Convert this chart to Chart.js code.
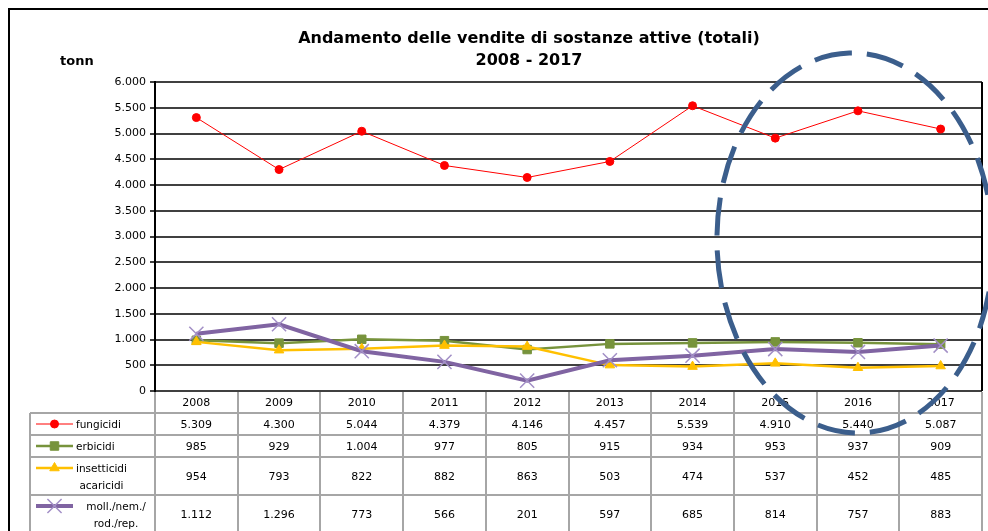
<!DOCTYPE html>
<html><head><meta charset="utf-8">
<script src="https://cdn.jsdelivr.net/npm/chart.js@4.4.1/dist/chart.umd.min.js"></script>
<style>html,body{margin:0;padding:0;background:#fff;}#wrap{width:988px;height:531px;position:relative;overflow:hidden;}</style>
</head><body><div id="wrap"><canvas id="c" width="988" height="531"></canvas></div>
<script>
// ---- data ----
const years = ['2008','2009','2010','2011','2012','2013','2014','2015','2016','2017'];
const fungicidi = [5309,4300,5044,4379,4146,4457,5539,4910,5440,5087];
const erbicidi = [985,929,1004,977,805,915,934,953,937,909];
const insetticidi = [954,793,822,882,863,503,474,537,452,485];
const molluschicidi = [1112,1296,773,566,201,597,685,814,757,883];
const seriesLabels = [['fungicidi'],['erbicidi'],['insetticidi','acaricidi'],['moll./nem./','rod./rep.']];
const yMin = 0, yMax = 6000, yStep = 500;
const titleLines = ['Andamento delle vendite di sostanze attive (totali)','2008 - 2017'];
const unitLabel = 'tonn';

// ---- styles ----
const styles = [
  {line:'#ff0000', lw:1, point:'circle', r:4, pFill:'#ff0000', pBorder:'#ff0000', pbw:1},
  {line:'#77933c', lw:2.5, point:'rect', r:6, pFill:'#77933c', pBorder:'#77933c', pbw:1},
  {line:'#ffc000', lw:2.5, point:'triangle', r:5.5, pFill:'#ffc000', pBorder:'#ffc000', pbw:1},
  {line:'#8064a2', lw:4, point:'crossRot', r:10, pFill:'#a28fc6', pBorder:'#a28fc6', pbw:1.5}
];
const seriesData = [fungicidi, erbicidi, insetticidi, molluschicidi];
const FONT = '"DejaVu Sans", Verdana, sans-serif';

function fmt(v){ return String(Math.round(v)).replace(/\B(?=(\d{3})+(?!\d))/g,'.'); }

function drawMarker(ctx, s, x, y){
  ctx.save();
  ctx.fillStyle = s.pFill; ctx.strokeStyle = s.pBorder; ctx.lineWidth = s.pbw;
  ctx.beginPath();
  if (s.point==='circle'){ ctx.arc(x,y,s.r,0,Math.PI*2); ctx.fill(); ctx.stroke(); }
  else if (s.point==='rect'){ const h=s.r*Math.SQRT1_2; ctx.rect(x-h,y-h,2*h,2*h); ctx.fill(); ctx.stroke(); }
  else if (s.point==='triangle'){
    const r=s.r;
    ctx.moveTo(x, y-r); ctx.lineTo(x+r*Math.sin(2*Math.PI/3), y-r*Math.cos(2*Math.PI/3));
    ctx.lineTo(x+r*Math.sin(4*Math.PI/3), y-r*Math.cos(4*Math.PI/3)); ctx.closePath(); ctx.fill(); ctx.stroke();
  } else {
    const o=s.r*Math.SQRT1_2;
    ctx.moveTo(x-o,y-o); ctx.lineTo(x+o,y+o); ctx.moveTo(x+o,y-o); ctx.lineTo(x-o,y+o); ctx.stroke();
  }
  ctx.restore();
}

const deco = {
  id:'deco',
  afterDraw(chart){
    const {ctx, chartArea:a, scales} = chart;
    const xs = scales.x;
    ctx.save();
    // outer border
    ctx.strokeStyle='#000'; ctx.lineWidth=2;
    ctx.beginPath(); ctx.moveTo(9,531); ctx.lineTo(9,9); ctx.lineTo(988,9); ctx.stroke();
    // plot right border
    ctx.beginPath(); ctx.moveTo(a.right, a.top); ctx.lineTo(a.right, a.bottom); ctx.stroke();
    // titles
    ctx.fillStyle='#000'; ctx.textAlign='center'; ctx.textBaseline='middle';
    ctx.font='bold 16px '+FONT;
    ctx.fillText(titleLines[0], 529, 39);
    ctx.fillText(titleLines[1], 529, 61);
    ctx.textAlign='left'; ctx.font='bold 13px '+FONT;
    ctx.fillText(unitLabel, 60, 62);
    // table
    const colW = (a.right-a.left)/years.length;
    const rowEdges = [a.bottom, a.bottom+22, a.bottom+44, a.bottom+66, a.bottom+104, a.bottom+142];
    const legLeft = 30;
    ctx.strokeStyle='#a6a6a6'; ctx.lineWidth=2;
    ctx.beginPath();
    for (let i=1;i<rowEdges.length-1;i++){ ctx.moveTo(legLeft,rowEdges[i]); ctx.lineTo(a.right,rowEdges[i]); }
    ctx.moveTo(legLeft,rowEdges[1]); ctx.lineTo(legLeft,531);
    for (let k=0;k<=years.length;k++){ const xx=Math.round(a.left+k*colW); ctx.moveTo(xx,a.bottom+1); ctx.lineTo(xx,531); }
    ctx.stroke();
    // years
    ctx.fillStyle='#000'; ctx.textAlign='center'; ctx.font='11px '+FONT;
    years.forEach((yr,i)=>{ ctx.fillText(yr, xs.getPixelForValue(i), (rowEdges[0]+rowEdges[1])/2+1); });
    // series rows
    seriesData.forEach((arr,si)=>{
      const top=rowEdges[si+1], bot=rowEdges[si+2], mid=(top+bot)/2+1;
      ctx.font='11px '+FONT; ctx.textAlign='center'; ctx.fillStyle='#000';
      arr.forEach((v,i)=>{ ctx.fillText(fmt(v), xs.getPixelForValue(i), mid); });
      const lines=seriesLabels[si]; const s=styles[si];
      const firstY = lines.length>1 ? mid-9 : mid-1;
      ctx.save(); ctx.strokeStyle=s.line; ctx.lineWidth=s.lw; ctx.lineCap='butt';
      ctx.beginPath(); ctx.moveTo(36,firstY); ctx.lineTo(73,firstY); ctx.stroke(); ctx.restore();
      drawMarker(ctx, s, 54.5, firstY);
      ctx.font='10.5px '+FONT; ctx.fillStyle='#000';
      if (lines.length===1){ ctx.textAlign='left'; ctx.fillText(lines[0], 76, firstY+1); }
      else {
        const w=Math.max(...lines.map(l=>ctx.measureText(l).width));
        const cx = si===3 ? 116 : 76+w/2;
        ctx.textAlign='center';
        lines.forEach((l,j)=>ctx.fillText(l, cx, firstY+1+j*17));
      }
    });
    // dashed ellipse annotation
    ctx.strokeStyle='#3b5e8c'; ctx.lineWidth=5; ctx.setLineDash([38,15]);
    ctx.beginPath(); ctx.ellipse(855,243,138,190,-0.03,0,Math.PI*2); ctx.stroke();
    ctx.restore();
  }
};

const datasets = seriesData.map((arr,i)=>({
  label: seriesLabels[i].join(' '),
  data: arr,
  borderColor: styles[i].line,
  borderWidth: styles[i].lw,
  backgroundColor: styles[i].pFill,
  pointStyle: styles[i].point,
  pointRadius: styles[i].r,
  pointHoverRadius: styles[i].r,
  pointBackgroundColor: styles[i].pFill,
  pointBorderColor: styles[i].pBorder,
  pointBorderWidth: styles[i].pbw,
  tension: 0,
  fill: false,
  order: 4-i
}));

new Chart(document.getElementById('c'), {
  type:'line',
  data:{ labels: years, datasets },
  options:{
    responsive:false, animation:false, devicePixelRatio:1,
    layout:{ padding:{ top:82, left:10, right:6, bottom:140 }, autoPadding:false },
    plugins:{ legend:{display:false}, title:{display:false}, tooltip:{enabled:false} },
    scales:{
      x:{ type:'category', display:false, offset:true, ticks:{display:false}, grid:{display:false} },
      y:{
        min:yMin, max:yMax,
        afterFit(s){ s.width = 145; },
        ticks:{ stepSize:yStep, color:'#000', font:{family:FONT, size:11}, padding:4, callback:(v)=>fmt(v) },
        grid:{ color:'#404040', lineWidth:2, tickLength:5, drawTicks:true },
        border:{ display:true, color:'#000', width:2 }
      }
    }
  },
  plugins:[deco]
});
</script>
</body></html>
